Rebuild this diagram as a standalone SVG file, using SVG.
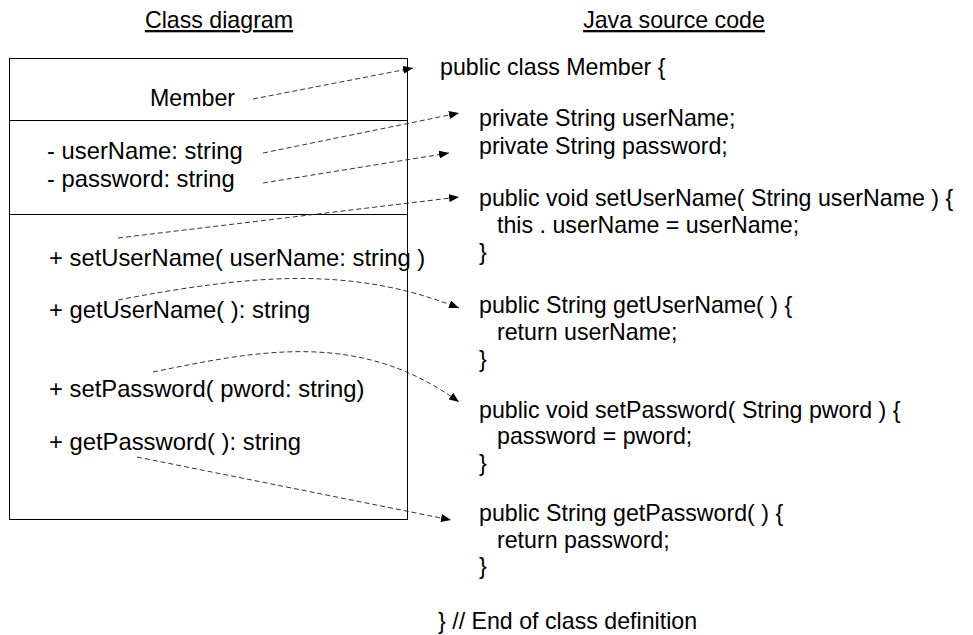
<svg xmlns="http://www.w3.org/2000/svg" width="973" height="635" viewBox="0 0 973 635">
<style>
text{font-family:"Liberation Sans",Arial,sans-serif;font-size:23.2px;fill:#000}
.ttl{text-decoration:underline}
.mem{font-size:23.8px}
.box{fill:#fff;stroke:#000;stroke-width:1}
.conn{fill:none;stroke:#333;stroke-width:1;stroke-dasharray:5 3;marker-end:url(#ah)}
</style>
<defs>
<marker id="ah" viewBox="0 0 10 8" refX="10" refY="4" markerWidth="10" markerHeight="8" markerUnits="userSpaceOnUse" orient="auto">
<path d="M0,0 L10,4 L0,8 Z" fill="#000"/>
</marker>
</defs>
<rect width="973" height="635" fill="#fff"/>
<g id="titles">
<text class="ttl" x="219" y="28" text-anchor="middle">Class diagram</text>
<text class="ttl" x="674" y="28" text-anchor="middle">Java source code</text>
</g>
<g id="class-member">
<rect class="box" x="9.5" y="58.5" width="398" height="461"/>
<line x1="9.5" y1="120.5" x2="407.5" y2="120.5" stroke="#000"/>
<line x1="9.5" y1="214.5" x2="407.5" y2="214.5" stroke="#000"/>
<text x="150" y="106">Member</text>
<text class="mem" x="47" y="159">- userName: string</text>
<text class="mem" x="47" y="187">- password: string</text>
<text class="mem" x="49" y="266">+ setUserName( userName: string )</text>
<text class="mem" x="49" y="318">+ getUserName( ): string</text>
<text class="mem" x="49" y="397">+ setPassword( pword: string)</text>
<text class="mem" x="49" y="450">+ getPassword( ): string</text>
</g>
<g id="java-source">
<text x="440" y="75">public class Member {</text>
<text x="479" y="126">private String userName;</text>
<text x="479" y="154">private String password;</text>
<text x="479" y="206">public void setUserName( String userName ) {</text>
<text x="497" y="233">this . userName = userName;</text>
<text x="479" y="260">}</text>
<text x="479" y="313">public String getUserName( ) {</text>
<text x="497" y="340">return userName;</text>
<text x="479" y="367">}</text>
<text x="479" y="418">public void setPassword( String pword ) {</text>
<text x="497" y="444">password = pword;</text>
<text x="479" y="471">}</text>
<text x="479" y="521">public String getPassword( ) {</text>
<text x="497" y="548">return password;</text>
<text x="479" y="574">}</text>
<text x="438" y="629">} // End of class definition</text>
</g>
<g id="connectors">
<path class="conn" d="M253,99 L413,68"/>
<path class="conn" d="M263,153 L459,113"/>
<path class="conn" d="M263,183 L449,153"/>
<path class="conn" d="M118,238 L459,197"/>
<path class="conn" d="M118,300 C250,275 350,265 459,308"/>
<path class="conn" d="M153,372 C260,350 360,330 459,402"/>
<path class="conn" d="M137,457 L451,520"/>
</g>
</svg>
